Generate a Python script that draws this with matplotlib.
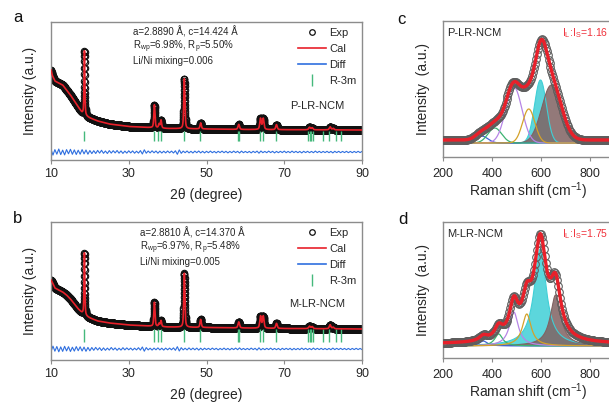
import numpy as np
import matplotlib
matplotlib.use("Agg")
import matplotlib.pyplot as plt
from matplotlib.lines import Line2D

plt.rcParams['font.family'] = ['Liberation Sans', 'DejaVu Sans']
plt.rcParams['mathtext.fontset'] = 'custom'
plt.rcParams['mathtext.rm'] = 'Liberation Sans'
plt.rcParams['mathtext.it'] = 'Liberation Sans:italic'

W, H = 609, 405

# ---------------- XRD / Rietveld refinement ----------------
bragg_r3m = [18.6, 36.6, 37.6, 38.2, 44.2, 48.4, 58.0, 58.3, 63.8, 64.5,
             67.9, 76.2, 76.5, 76.9, 77.3, 80.0, 81.6, 83.2, 84.5]

# P-LR-NCM background knots and reflections
bg_a_theta = [10, 10.3, 11, 12, 13, 14, 15, 16, 17, 18, 19, 20, 22, 25, 30, 35, 40, 50, 60, 70, 90]
bg_a_int = [90, 85, 79, 77, 75, 70, 65, 59, 53, 47, 44, 42, 39, 36, 33.5, 32.5, 31.5, 31, 30.5, 30.3, 30]
pk_a_pos = [18.6, 36.6, 37.8, 38.3, 44.3, 48.5, 58.3, 63.9, 64.6, 68.0, 76.5, 77.2, 81.8, 82.6]
pk_a_height = [64, 23, 4, 8, 50, 6, 5, 11, 11, 5, 2.5, 2, 3, 1.5]
pk_a_fwhm = [0.25, 0.35, 0.35, 0.35, 0.35, 0.4, 0.45, 0.45, 0.45, 0.45, 0.5, 0.5, 0.5, 0.5]
diff_a = [2.8, -3.1, 2.4, -2.2, 3.0, -2.6, 1.9, -2.9, 2.4, -1.8, 2.7, -2.3, 2.1, -2.5, 1.8, -2.2, 2.4, -1.9, 2.0, -2.2, 1.5,
          -1.6, 1.3, -1.5, 1.6, -1.1, 1.7, -1.3, 1.0, -1.5, 1.4, -1.1, 1.3, -0.9, 1.5, -1.2, 1.1, -1.4, 0.9, -1.1, 1.2,
          -0.9, 1.1, -1.2, 0.8, -1.1, 1.4, -2.0, 2.2, -1.2, 1.0, -0.9, 1.2, -0.8, 1.0, -1.2, 0.9, -1.0, 0.8, -0.9, 1.0,
          -0.8, 0.9, -1.0, 1.2, -2.3, 2.1, -1.3, 0.9, -0.7, 1.0, -0.9, 0.7, -1.0, 0.9, -0.7, 1.0, -0.9, 0.7, -0.9, 0.7,
          -0.7, 0.9, -0.7, 0.6, -0.9, 0.7, -0.6, 0.9, -0.7, 0.7, -0.9, 0.6, -0.7, 0.9, -0.6, 0.7, -1.0, 0.9, -0.7, 0.6,
          -0.7, 0.6, -0.9, 0.7, -0.6, 0.9, -1.2, 1.0, -0.7, 0.6, -0.7, 0.9, -0.6, 0.7, -0.9, 0.6, -0.7, 0.7, -0.6, 0.9,
          -0.7, 0.6, -0.7, 0.9, -0.6, 0.7, -0.7, 0.6, -0.9, 0.7, -0.6, 0.7, -0.7, 0.6, -0.7, 0.9, -0.6, 0.7, -0.7, 0.6,
          -0.6, 0.7, -0.7, 0.6, -0.9, 0.7, -0.6, 0.7, -0.7, 0.6, -0.6, 0.7, -0.7, 0.6, -0.7, 0.6, -0.6, 0.7, -0.6, 0.6]

# M-LR-NCM background knots and reflections
bg_b_theta = [10, 10.3, 11, 12, 13, 14, 15, 16, 17, 18, 19, 20, 22, 25, 30, 35, 40, 50, 60, 70, 90]
bg_b_int = [80, 78, 72, 70, 68, 65, 61, 56, 51, 47, 44, 42, 39, 37, 35, 34, 33, 32.5, 32, 31.5, 31]
pk_b_pos = [18.6, 36.6, 37.8, 38.3, 44.3, 48.5, 58.3, 63.9, 64.6, 68.0, 76.5, 77.2, 81.8, 82.6]
pk_b_height = [62, 24, 3, 6, 54, 8, 6, 12, 12, 5, 2.5, 2, 4, 1.5]
pk_b_fwhm = [0.25, 0.35, 0.35, 0.35, 0.35, 0.4, 0.45, 0.45, 0.45, 0.45, 0.5, 0.5, 0.5, 0.5]
diff_b = [-2.6, 2.9, -2.2, 2.5, -2.8, 2.1, -2.4, 2.7, -1.9, 2.3, -2.5, 1.8, -2.1, 2.4, -1.7, 2.2, -2.0, 1.9, -2.3, 1.6, -1.8,
          1.5, -1.3, 1.6, -1.0, 1.3, -1.5, 1.1, -1.3, 0.9, -1.1, 1.5, -0.9, 1.1, -1.3, 0.8, -1.1, 1.3, -0.9, 1.1, -0.8,
          0.9, -1.1, 0.8, -0.9, 1.3, -1.1, 2.0, -2.2, 1.4, -0.9, 0.8, -1.1, 0.9, -0.8, 1.1, -0.9, 0.8, -1.1, 0.9, -0.8,
          0.9, -0.8, 1.1, -1.3, 2.3, -2.0, 1.3, -0.9, 0.8, -0.9, 1.1, -0.8, 0.9, -0.8, 0.9, -1.1, 0.8, -0.9, 0.8, -0.6,
          0.7, -0.7, 0.9, -0.6, 0.7, -0.9, 0.6, -0.7, 0.9, -0.7, 0.6, -0.9, 0.7, -0.6, 0.9, -0.7, 1.1, -0.7, 0.6, -0.7,
          0.6, -0.7, 0.9, -0.6, 0.7, -1.1, 1.2, -0.9, 0.6, -0.7, 0.7, -0.6, 0.9, -0.7, 0.6, -0.7, 0.6, -0.9, 0.7, -0.6,
          0.7, -0.6, 0.7, -0.9, 0.6, -0.7, 0.6, -0.7, 0.9, -0.6, 0.7, -0.7, 0.6, -0.7, 0.9, -0.6, 0.7, -0.6, 0.7, -0.6,
          0.6, -0.7, 0.6, -0.7, 0.9, -0.6, 0.7, -0.6, 0.7, -0.6, 0.6, -0.7, 0.6, -0.7, 0.6, -0.6, 0.7, -0.6, 0.6, -0.6]

xrd_ticks = [10, 30, 50, 70, 90]

# ---------------- Raman deconvolution ----------------
raman_ticks = [200, 400, 600, 800]
raman_colors = ['#3f63d8', '#3cb371', '#b685e6', '#d4a22a', '#3fcfd6', '#806262']
raman_filled = [False, False, False, False, True, True]

# P-LR-NCM bands (Gaussian)
ram_c_center = [358, 412, 490, 551, 599, 644]
ram_c_height = [7, 15, 56, 34, 63, 58]
ram_c_fwhm = [59, 66, 78, 59, 57, 94]
ram_c_base = 14
ram_c_offset = 3
ram_c_ratio = '1.16'

# M-LR-NCM bands (Lorentzian)
ram_d_center = [365, 428, 490, 543, 598, 661]
ram_d_height = [5, 12, 34, 32, 97, 51]
ram_d_fwhm = [40, 40, 44, 44, 60, 52]
ram_d_base = 12
ram_d_offset = 2
ram_d_ratio = '1.75'


def pseudo_voigt(x, c, h, fwhm, eta):
    g = np.exp(-4 * np.log(2) * ((x - c) / fwhm) ** 2)
    l = 1.0 / (1.0 + 4 * ((x - c) / fwhm) ** 2)
    return h * (eta * l + (1 - eta) * g)


def rietveld_profile(x, bg_t, bg_i, pos, hgt, fwhm):
    y = np.interp(x, bg_t, bg_i)
    for c, h, w in zip(pos, hgt, fwhm):
        y = y + pseudo_voigt(x, c, h, w, 0.5)
    return y


fig = plt.figure(figsize=(W / 100, H / 100), dpi=100)

def px_axes(left, top, right, bottom):
    return fig.add_axes([left / W, 1 - bottom / H, (right - left) / W, (bottom - top) / H])

def ftext(x, y, s, **kw):
    fig.text(x / W, 1 - y / H, s, **kw)

SPINE = '#8c8c8c'
TXT = '#262626'
RED = '#e8202a'
BLUE = '#2f6fdf'
GREEN = '#45b97c'


def style_axes(ax, pad):
    for sp in ax.spines.values():
        sp.set_color(SPINE)
        sp.set_linewidth(1.0)
    ax.set_yticks([])
    ax.tick_params(axis='x', direction='out', length=3, width=0.8, color=SPINE,
                   labelsize=9, labelcolor=TXT, pad=pad)


def xrd_panel(ax, bg_t, bg_i, pos, hgt, fwhm, diff, diff_level, tick_lo, tick_hi):
    x_fine = np.linspace(10, 90, 4001)
    calc = rietveld_profile(x_fine, bg_t, bg_i, pos, hgt, fwhm)
    ax.plot(x_fine, calc, linestyle='none', marker='o', markersize=4.6, markerfacecolor='none',
            markeredgecolor='#111111', markeredgewidth=0.8, zorder=2)
    ax.plot(x_fine, calc, color=RED, lw=1.2, zorder=3)
    x_diff = np.linspace(10, 90, len(diff))
    ax.plot(x_diff, diff_level + np.asarray(diff), color=BLUE, lw=0.8, zorder=2)
    ax.vlines(bragg_r3m, tick_lo, tick_hi, color=GREEN, lw=1.0, zorder=2)
    ax.set_xlim(10, 90)
    ax.set_ylim(0, 138)
    ax.set_xticks(xrd_ticks)
    style_axes(ax, 2.5)
    ax.set_xlabel('2\u03b8 (degree)', fontsize=10, color=TXT, labelpad=6)
    ax.set_ylabel('Intensity (a.u.)', fontsize=10, color=TXT, labelpad=10)
    handles = [
        Line2D([], [], linestyle='none', marker='o', markersize=4, markerfacecolor='none',
               markeredgecolor='#111111', markeredgewidth=0.9),
        Line2D([], [], color=RED, lw=1.2),
        Line2D([], [], color=BLUE, lw=1.2),
        Line2D([], [], linestyle='none', marker='|', markersize=9, markeredgewidth=1.0, color=GREEN),
    ]
    leg = ax.legend(handles, ['Exp', 'Cal', 'Diff', 'R-3m'], loc='upper right',
                    bbox_to_anchor=(1.0, 1.0), frameon=False, fontsize=8, handlelength=2.5,
                    handletextpad=0.3, labelspacing=0.55, borderpad=0.2, borderaxespad=0.3)
    for t in leg.get_texts():
        t.set_color(TXT)


def raman_panel(ax, centers, heights, fwhms, eta, base, offset):
    x = np.linspace(200, 900, 1401)
    total = np.full_like(x, base + offset)
    for c, h, w, col, filled in zip(centers, heights, fwhms, raman_colors, raman_filled):
        comp = pseudo_voigt(x, c, h, w, eta)
        total = total + comp
        if filled:
            ax.fill_between(x, base, base + comp, facecolor=col, edgecolor='none', alpha=0.85, zorder=1)
            ax.plot(x, base + comp, color=col, lw=0.8, zorder=2)
    for c, h, w, col, filled in zip(centers, heights, fwhms, raman_colors, raman_filled):
        if not filled:
            ax.plot(x, base + pseudo_voigt(x, c, h, w, eta), color=col, lw=0.9, zorder=2)
    x_exp = np.linspace(200, 900, 176)
    ax.plot(x_exp, np.interp(x_exp, x, total), linestyle='none', marker='o', markersize=5.5,
            markerfacecolor='none', markeredgecolor='#5e5e5e', markeredgewidth=0.8, zorder=3)
    ax.plot(x, total, color=RED, lw=2.4, zorder=4)
    ax.set_xlim(200, 900)
    ax.set_xticks(raman_ticks)
    style_axes(ax, 5.0)
    ax.set_xlabel('Raman shift (cm$^\\mathregular{-1}$)', fontsize=10, color=TXT, labelpad=0.5)
    ax.set_ylabel('Intensity  (a.u.)', fontsize=10, color=TXT, labelpad=9)


# panel a
ax_a = px_axes(51, 22, 362, 160)
xrd_panel(ax_a, bg_a_theta, bg_a_int, pk_a_pos, pk_a_height, pk_a_fwhm, diff_a, 8, 19, 29)
ftext(133, 32, 'a=2.8890 \u00c5, c=14.424 \u00c5', fontsize=7, color=TXT, va='center')
ftext(133, 47, 'R$_\\mathregular{wp}$=6.98%, R$_\\mathregular{p}$=5.50%', fontsize=7, color=TXT, va='center')
ftext(133, 61, 'Li/Ni mixing=0.006', fontsize=7, color=TXT, va='center')
ftext(290, 106, 'P-LR-NCM', fontsize=8, color=TXT, va='center')

# panel b
ax_b = px_axes(51, 222, 362, 360)
xrd_panel(ax_b, bg_b_theta, bg_b_int, pk_b_pos, pk_b_height, pk_b_fwhm, diff_b, 11, 18, 31)
ftext(140, 233, 'a=2.8810 \u00c5, c=14.370 \u00c5', fontsize=7, color=TXT, va='center')
ftext(140, 248, 'R$_\\mathregular{wp}$=6.97%, R$_\\mathregular{p}$=5.48%', fontsize=7, color=TXT, va='center')
ftext(140, 262, 'Li/Ni mixing=0.005', fontsize=7, color=TXT, va='center')
ftext(289, 304, 'M-LR-NCM', fontsize=8, color=TXT, va='center')

# panel c
ax_c = px_axes(443, 21, 614, 157)
ax_c.set_ylim(0, 136)
raman_panel(ax_c, ram_c_center, ram_c_height, ram_c_fwhm, 0.0, ram_c_base, ram_c_offset)
ftext(447, 33, 'P-LR-NCM', fontsize=8, color=TXT, va='center')
ftext(562, 33, 'I$_\\mathregular{L}$:I$_\\mathregular{S}$=' + ram_c_ratio, fontsize=7.5, color='#f0303a', va='center')

# panel d
ax_d = px_axes(443, 222, 614, 358)
ax_d.set_ylim(0, 136)
raman_panel(ax_d, ram_d_center, ram_d_height, ram_d_fwhm, 1.0, ram_d_base, ram_d_offset)
ftext(447, 234, 'M-LR-NCM', fontsize=8, color=TXT, va='center')
ftext(562, 234, 'I$_\\mathregular{L}$:I$_\\mathregular{S}$=' + ram_d_ratio, fontsize=7.5, color='#f0303a', va='center')

# panel letters
for lx, ly, s in [(18, 17, 'a'), (18, 218, 'b'), (401, 19, 'c'), (403, 219, 'd')]:
    ftext(lx, ly, s, fontsize=12, color='#111111', ha='center', va='center')

fig.savefig('out.png', dpi=100)
